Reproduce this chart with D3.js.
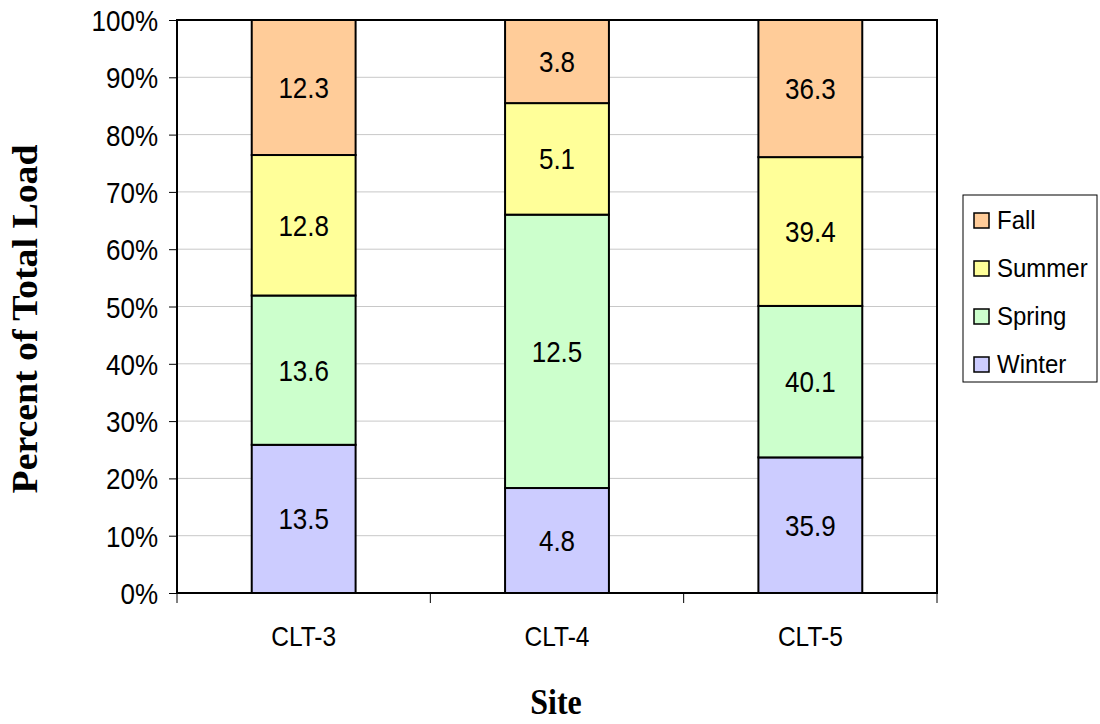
<!DOCTYPE html>
<html><head><meta charset="utf-8">
<script src="https://cdn.jsdelivr.net/npm/d3@7"></script>
<style>body{margin:0;background:#fff}svg{display:block}</style>
</head><body>
<svg id="chart" width="1100" height="724"></svg>
<script>
const sites = ["CLT-3", "CLT-4", "CLT-5"];
const seasons = ["Winter", "Spring", "Summer", "Fall"];
const winter = [13.5, 4.8, 35.9];
const spring = [13.6, 12.5, 40.1];
const summer = [12.8, 5.1, 39.4];
const fall = [12.3, 3.8, 36.3];
const yTicks = [0, 0.1, 0.2, 0.3, 0.4, 0.5, 0.6, 0.7, 0.8, 0.9, 1.0];
const colors = {Winter: "#CCCCFF", Spring: "#CCFFCC", Summer: "#FFFF99", Fall: "#FFCC99"};

const rows = sites.map((s, i) => ({site: s, Winter: winter[i], Spring: spring[i], Summer: summer[i], Fall: fall[i]}));
const stack = d3.stack().keys(seasons).offset(d3.stackOffsetExpand)(rows);

const svg = d3.select("#chart");
const m = {l: 177, r: 937, t: 20, b: 593};
const x = d3.scaleBand().domain(sites).range([m.l, m.r]).paddingInner(0.59).paddingOuter(0.295);
const xb = d3.scaleBand().domain(sites).range([m.l, m.r]);
const y = d3.scaleLinear().domain([0, 1]).range([m.b, m.t]);
const font = "Liberation Sans, Arial, sans-serif";
const serif = "Liberation Serif, Times New Roman, serif";
const SY = 1.13;

function txt(g, px, py, str, size, anchor, opts = {}) {
  const t = g.append("text")
    .attr("transform", `translate(${px},${py}) scale(1,${opts.sy || SY})`)
    .attr("text-anchor", anchor)
    .attr("font-family", opts.family || font)
    .attr("font-size", size)
    .attr("fill", "#000")
    .text(str);
  if (opts.dy) t.attr("dy", opts.dy);
  if (opts.bold) t.attr("font-weight", "bold");
  return t;
}

// gridlines
svg.append("g").selectAll("line").data(yTicks.slice(1, -1)).join("line")
  .attr("x1", m.l).attr("x2", m.r).attr("y1", d => y(d)).attr("y2", d => y(d))
  .attr("stroke", "#c8c8c8").attr("stroke-width", 1);

// bars
const layers = svg.append("g").selectAll("g").data(stack).join("g")
  .attr("fill", d => colors[d.key]);
layers.selectAll("rect").data(d => d).join("rect")
  .attr("x", d => x(d.data.site)).attr("width", x.bandwidth())
  .attr("y", d => y(d[1])).attr("height", d => y(d[0]) - y(d[1]))
  .attr("stroke", "#000").attr("stroke-width", 2);

// value labels
const lbl = svg.append("g");
stack.forEach(layer => {
  layer.forEach(d => {
    txt(lbl, x(d.data.site) + x.bandwidth() / 2, (y(d[0]) + y(d[1])) / 2,
      d.data[layer.key], 26, "middle", {dy: "0.36em"});
  });
});

// frame
svg.append("rect").attr("x", m.l).attr("y", m.t).attr("width", m.r - m.l).attr("height", m.b - m.t)
  .attr("fill", "none").attr("stroke", "#000").attr("stroke-width", 2);

// y axis
const yAxis = svg.append("g").attr("transform", `translate(${m.l},0)`)
  .call(d3.axisLeft(y).tickValues(yTicks).tickFormat(d3.format(".0%")).tickSize(8));
yAxis.select(".domain").remove();
yAxis.selectAll(".tick line").attr("stroke", "#000").attr("stroke-width", 1);
yAxis.selectAll(".tick text").remove();
yAxis.selectAll(".tick").each(function(d) {
  txt(d3.select(this), -19, 0, d3.format(".0%")(d), 26, "end", {dy: "0.36em"});
});

// x axis ticks at category boundaries
const bounds = sites.map(s => xb(s)).concat([m.r]);
svg.append("g").selectAll("line").data(bounds).join("line")
  .attr("x1", d => d).attr("x2", d => d).attr("y1", m.b).attr("y2", m.b + 10)
  .attr("stroke", "#000").attr("stroke-width", 1);
const xl = svg.append("g");
sites.forEach(s => txt(xl, xb(s) + xb.bandwidth() / 2, 646, s, 24.5, "middle"));

// axis titles
txt(svg, 556, 714, "Site", 32, "middle", {family: serif, bold: true, sy: 1.12});
svg.append("text").attr("transform", "translate(37,319) rotate(-90) scale(1.05,1)").attr("text-anchor", "middle")
  .attr("font-family", serif).attr("font-weight", "bold").attr("font-size", 36)
  .text("Percent of Total Load");

// legend
const lg = svg.append("g");
lg.append("rect").attr("x", 963).attr("y", 195).attr("width", 134).attr("height", 187)
  .attr("fill", "#fff").attr("stroke", "#000").attr("stroke-width", 1);
const legOrder = seasons.slice().reverse();
legOrder.forEach((s, i) => {
  const g = lg.append("g").attr("transform", `translate(974,${220 + i * 48})`);
  g.append("rect").attr("x", 0).attr("y", -7).attr("width", 15).attr("height", 15)
    .attr("fill", colors[s]).attr("stroke", "#000").attr("stroke-width", 1.5);
  txt(g, 23, 0, s, 24, "start", {dy: "0.36em", sy: 1.08});
});
</script>
</body></html>
